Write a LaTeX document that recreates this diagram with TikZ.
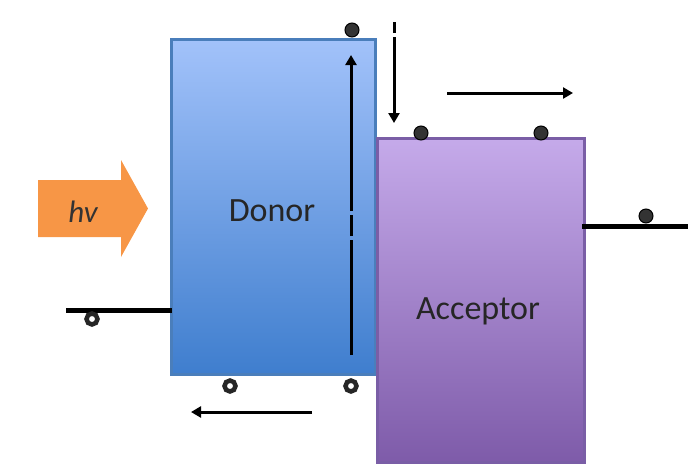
\documentclass[tikz,border=0pt]{standalone}
\usepackage{fontspec}
\setmainfont{Carlito}
\usetikzlibrary{arrows.meta}
\definecolor{donorTop}{HTML}{A2C2FA}
\definecolor{donorBot}{HTML}{3F7ECE}
\definecolor{donorEdge}{HTML}{4A7EBB}
\definecolor{accTop}{HTML}{C5AAEA}
\definecolor{accBot}{HTML}{7E5BA9}
\definecolor{accEdge}{HTML}{7A5EA6}
\definecolor{photon}{HTML}{F79646}
\tikzset{
  electron/.style={circle,fill=black!80,draw=black,line width=1pt,minimum size=14pt,inner sep=0pt},
  hole/.style={circle,fill=white,draw=black!85,line width=4.5pt,minimum size=11pt,inner sep=0pt},
  level/.style={line width=5pt},
  move/.style={line width=3pt,-{Triangle[length=10pt,width=11pt]}},
  plain/.style={line width=3pt},
  label/.style={font=\fontsize{34}{34}\selectfont,text=black!85}
}
\begin{document}
\begin{tikzpicture}[x=1pt,y=-1pt]
\useasboundingbox (0,0) rectangle (688,464);
% donor and acceptor blocks
\shade[top color=donorTop,bottom color=donorBot,draw=donorEdge,line width=3pt]
  (171.5,39.5) rectangle (375.5,374);
\shade[top color=accTop,bottom color=accBot,draw=accEdge,line width=3pt]
  (377,138.5) rectangle (584.5,462.5);
\node[label] (donor) at (272,211) {Donor};
\node[label] (acceptor) at (478,311) {Acceptor};
% incoming light (block arrow)
\fill[photon] (38,180) -- (121,180) -- (121,160) -- (148,208.5)
  -- (121,257) -- (121,237) -- (38,237) -- cycle;
\node[font=\fontsize{31}{31}\selectfont\itshape,text=black!80] (hv) at (83,212) {hv};
% energy levels outside the blocks
\coordinate (homoL) at (66,310);
\coordinate (homoR) at (172,310);
\draw[level] (homoL) -- (homoR);
\coordinate (lumoL) at (582,226);
\coordinate (lumoR) at (688,226);
\draw[level] (lumoL) -- (lumoR);
% carriers
\node[electron] (e1) at (352,30) {};
\node[electron] (e2) at (421,133) {};
\node[electron] (e3) at (541,133) {};
\node[electron] (e4) at (646,216) {};
\node[hole] (h1) at (92,319) {};
\node[hole] (h2) at (230,386) {};
\node[hole] (h3) at (351,386) {};
% excitation inside the donor
\coordinate (up0) at (351,355);
\coordinate (up1) at (351,240);
\coordinate (up2) at (351,236);
\coordinate (up3) at (351,215);
\coordinate (up4) at (351,211);
\coordinate (up5) at (351,55);
\draw[plain] (up0) -- (up1);
\draw[plain] (up2) -- (up3);
\draw[move] (up4) -- (up5);
% transfer to the acceptor
\coordinate (dn0) at (394,22);
\coordinate (dn1) at (394,33);
\coordinate (dn2) at (394,37);
\coordinate (dn3) at (394,123);
\draw[plain] (dn0) -- (dn1);
\draw[move] (dn2) -- (dn3);
% charge drift
\coordinate (eA) at (447,93);
\coordinate (eB) at (573,93);
\draw[move] (eA) -- (eB);
\coordinate (hA) at (312,412);
\coordinate (hB) at (191,412);
\draw[move] (hA) -- (hB);
\end{tikzpicture}
\end{document}
